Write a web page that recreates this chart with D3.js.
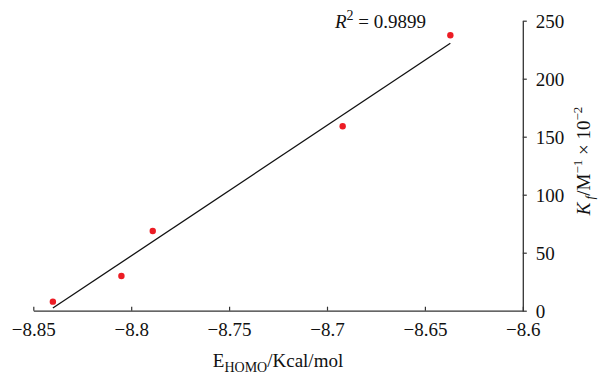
<!DOCTYPE html>
<html>
<head>
<meta charset="utf-8">
<script src="https://cdn.jsdelivr.net/npm/d3@7"></script>
<style>
  body { margin: 0; background: #fff; }
  text { font-family: "Liberation Serif", "DejaVu Serif", serif; fill: #111; }
</style>
</head>
<body>
<div id="viz"></div>
<script>
// data
var energy = [-8.840, -8.805, -8.789, -8.692, -8.637];
var kf = [7.8, 29.9, 68.7, 159, 237.4];
var xTicks = [-8.85, -8.8, -8.75, -8.7, -8.65, -8.6];
var yTicks = [0, 50, 100, 150, 200, 250];

var W = 599, H = 375;
var svg = d3.select("#viz").append("svg")
  .attr("width", W)
  .attr("height", H);

var x = d3.scaleLinear().domain([-8.85, -8.6]).range([33.3, 522.8]);
var y = d3.scaleLinear().domain([0, 250]).range([310.7, 20.7]);

var fmt = function(d) { return d3.format("")(d).replace("-", "\u2212"); };

// x axis, ticks pointing up
var gx = svg.append("g").attr("transform", "translate(0," + y(0) + ")")
  .call(d3.axisBottom(x).tickValues(xTicks).tickSizeInner(-4).tickSizeOuter(0).tickPadding(12).tickFormat(fmt));

// y axis on the right
var gy = svg.append("g").attr("transform", "translate(" + x(-8.6) + ",0)")
  .call(d3.axisRight(y).tickValues(yTicks).tickSizeInner(4).tickSizeOuter(0).tickPadding(9));

[gx, gy].forEach(function(g) {
  g.select(".domain").attr("stroke", "#333").attr("stroke-width", 1.3);
  g.selectAll(".tick line").attr("stroke", "#333").attr("stroke-width", 1.2);
  g.selectAll("text").attr("font-size", 19).attr("font-family", "Liberation Serif, serif").attr("fill", "#111");
});
gy.selectAll("text").attr("dy", "0.35em");

// least squares fit
var mx = d3.mean(energy), my = d3.mean(kf);
var sxy = d3.sum(energy, function(v, i) { return (v - mx) * (kf[i] - my); });
var sxx = d3.sum(energy, function(v) { return (v - mx) * (v - mx); });
var slope = sxy / sxx, icpt = my - slope * mx;
var xExt = d3.extent(energy);

svg.append("line")
  .attr("x1", x(xExt[0])).attr("y1", y(slope * xExt[0] + icpt))
  .attr("x2", x(xExt[1])).attr("y2", y(slope * xExt[1] + icpt))
  .attr("stroke", "#111").attr("stroke-width", 1.3);

svg.selectAll("circle.pt").data(energy).enter().append("circle")
  .attr("class", "pt")
  .attr("cx", function(d) { return x(d); })
  .attr("cy", function(d, i) { return y(kf[i]); })
  .attr("r", 3.2)
  .attr("fill", "#ec1c24");

// R squared label
var r2 = svg.append("text").attr("x", 335).attr("y", 28).attr("font-size", 19);
r2.append("tspan").attr("font-style", "italic").text("R");
r2.append("tspan").attr("font-size", 14).attr("dy", -8).text("2");
r2.append("tspan").attr("dy", 8).text(" = 0.9899");

// x title
var xt = svg.append("text").attr("x", 278).attr("y", 367).attr("text-anchor", "middle").attr("font-size", 19);
xt.append("tspan").text("E");
xt.append("tspan").attr("font-size", 14).attr("dy", 5).text("HOMO");
xt.append("tspan").attr("dy", -5).text("/Kcal/mol");

// y title
var yt = svg.append("text")
  .attr("transform", "translate(590,161) rotate(-90)")
  .attr("text-anchor", "middle").attr("font-size", 19);
yt.append("tspan").attr("font-style", "italic").text("K");
yt.append("tspan").attr("font-style", "italic").attr("font-size", 13).attr("dy", 4).text(" f");
yt.append("tspan").attr("dy", -4).text("/M");
yt.append("tspan").attr("font-size", 13).attr("dy", -8).text("\u22121");
yt.append("tspan").attr("dy", 8).text(" \u00d7 10");
yt.append("tspan").attr("font-size", 13).attr("dy", -8).text("\u22122");
</script>
</body>
</html>
